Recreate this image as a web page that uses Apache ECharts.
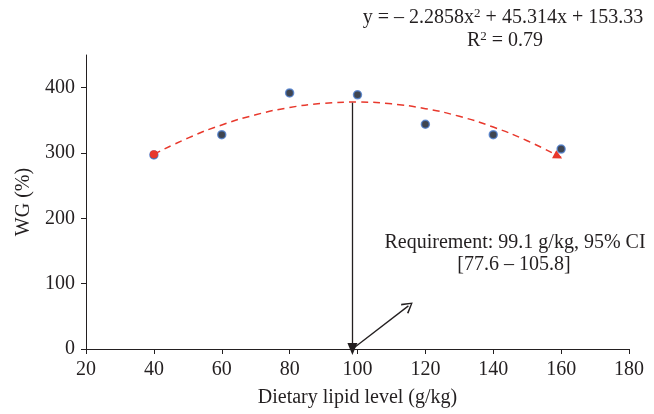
<!DOCTYPE html>
<html>
<head>
<meta charset="utf-8">
<script src="https://cdn.jsdelivr.net/npm/echarts@6/dist/echarts.min.js"></script>
<style>
  html, body { margin: 0; padding: 0; background: #fff; }
  #chart { width: 654px; height: 414px; }
</style>
</head>
<body>
<div id="chart"></div>
<script>
var lipidLevels = [40, 60, 80, 100, 120, 140, 160]
var wgValues = [297, 328, 392, 389, 344, 328, 306]

// fitted quadratic
var trendX = [40, 50, 60, 70, 80, 90, 100, 110, 120, 130, 140, 150, 160]
var trendY = [298, 322.8, 342.9, 358.5, 369.6, 376, 377.9, 375.2, 367.9, 356.1, 339.7, 318.7, 293.2]

var yTicks = [0, 100, 200, 300, 400]
var requirement = 98.5
var requirementTop = 377
var pointerEnd = [115, 66]

var serif = 'Liberation Serif'
var ink = '#231f20'
var fs = 20

var chart = echarts.init(document.getElementById('chart'))

var trendData = trendX.map(function (x, i) {
  var item = { value: [x, trendY[i]] }
  if (i === 0) {
    item.symbol = 'circle'
    item.symbolSize = 8
  } else if (i === trendX.length - 1) {
    item.symbol = 'triangle'
    item.symbolSize = [9, 9]
    item.symbolRotate = -118
    item.symbolOffset = [-3, -1]
  }
  return item
})

var supStyle = {
  sup: { fontFamily: serif, fontSize: 13, fill: ink, verticalAlign: 'top', lineHeight: 12 }
}

function label(x, y, text) {
  return {
    type: 'text',
    x: x, y: y,
    style: {
      text: text,
      fontFamily: serif, fontSize: fs, fill: ink, lineHeight: 22,
      align: 'center', verticalAlign: 'middle',
      rich: supStyle
    }
  }
}

var option = {
  animation: false,
  grid: { left: 86, right: 25, top: 55, bottom: 65 },
  textStyle: { fontFamily: serif },
  xAxis: {
    type: 'value',
    min: 20,
    max: 180,
    interval: 20,
    name: 'Dietary lipid level (g/kg)',
    nameLocation: 'middle',
    nameGap: 39,
    nameTextStyle: { fontFamily: serif, fontSize: fs, color: ink },
    axisLine: { lineStyle: { color: ink, width: 1 } },
    axisTick: { length: 5, lineStyle: { color: ink } },
    axisLabel: { fontFamily: serif, fontSize: fs, color: ink, margin: 11 },
    splitLine: { show: false }
  },
  yAxis: {
    type: 'value',
    min: 0,
    max: 450,
    interval: 50,
    name: 'WG (%)',
    nameLocation: 'middle',
    nameGap: 52,
    nameTextStyle: { fontFamily: serif, fontSize: fs, color: ink },
    axisLine: { show: true, lineStyle: { color: ink, width: 1 } },
    axisTick: { show: true, length: 5, customValues: yTicks, lineStyle: { color: ink } },
    axisLabel: { fontFamily: serif, fontSize: fs, color: ink, margin: 11, customValues: yTicks },
    splitLine: { show: false }
  },
  series: [
    {
      type: 'scatter',
      z: 2,
      data: lipidLevels.map(function (x, i) { return [x, wgValues[i]] }),
      symbolSize: 8,
      itemStyle: { color: '#0f1624', borderColor: '#4f7fd0', borderWidth: 1.5 },
      markLine: {
        silent: true,
        animation: false,
        label: { show: false },
        lineStyle: { color: ink, width: 1.3, type: 'solid' },
        data: [
          [
            { coord: [requirement, requirementTop], symbol: 'none' },
            { coord: [requirement, 0], symbol: 'triangle', symbolSize: [10, 12] }
          ],
          [
            { coord: [requirement, 0], symbol: 'none' },
            {
              coord: pointerEnd,
              symbol: 'path://M0,10 L5,0 L10,10 L9,11 L5,2.5 L1,11 Z',
              symbolSize: [12, 11]
            }
          ]
        ]
      }
    },
    {
      type: 'line',
      z: 3,
      smooth: true,
      symbol: 'none',
      showSymbol: true,
      data: trendData,
      lineStyle: { color: '#e8382c', width: 1.5, type: [7, 5] },
      itemStyle: { color: '#e8382c' }
    }
  ],
  graphic: [
    label(503, 18, 'y = \u2013 2.2858x{sup|2} + 45.314x + 153.33'),
    label(505, 41, 'R{sup|2} = 0.79'),
    label(515, 243, 'Requirement: 99.1 g/kg, 95% CI'),
    label(514, 265, '[77.6 \u2013 105.8]')
  ]
}

chart.setOption(option)
</script>
</body>
</html>
